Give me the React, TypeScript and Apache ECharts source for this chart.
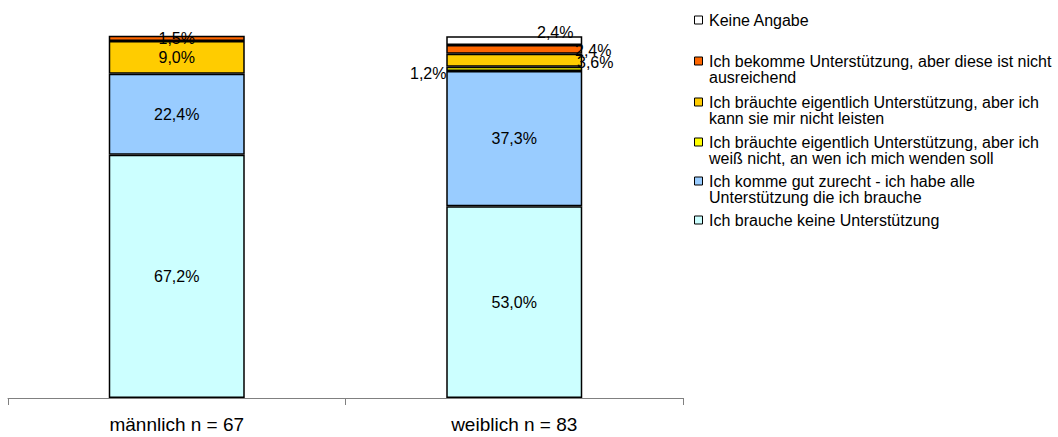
import React, { useEffect, useRef } from "react";
import * as echarts from "echarts";

const categories = ["männlich n = 67", "weiblich n = 83"];

const seriesNames = [
  "Ich brauche keine Unterstützung",
  "Ich komme gut zurecht - ich habe alle\nUnterstützung die ich brauche",
  "Ich bräuchte eigentlich Unterstützung, aber ich\nweiß nicht, an wen ich mich wenden soll",
  "Ich bräuchte eigentlich Unterstützung, aber ich\nkann sie mir nicht leisten",
  "Ich bekomme Unterstützung, aber diese ist nicht\nausreichend",
  "Keine Angabe",
];

const seriesColors = ["#CCFFFF", "#99CCFF", "#FFFF00", "#FFCC00", "#FF6600", "#FFFFFF"];

// values per series: [männlich, weiblich]
const keineUnterstuetzung = [67.2, 53.0];
const kommeGutZurecht = [22.4, 37.3];
const weissNichtWohin = [null, 1.2];
const kannNichtLeisten = [9.0, 3.6];
const nichtAusreichend = [1.5, 2.4];
const keineAngabe = [null, 2.4];

const seriesValues = [
  keineUnterstuetzung,
  kommeGutZurecht,
  weissNichtWohin,
  kannNichtLeisten,
  nichtAusreichend,
  keineAngabe,
];

// label offsets [seriesIndex][categoryIndex]
const labelOffsets: (number[] | null)[][] = [
  [null, null],
  [null, null],
  [null, [-86, 5]],
  [null, [81, 2]],
  [null, [79, 1]],
  [null, [41, -8]],
];

// legend first-line centre y positions (top to bottom: series 5 .. 0)
const legendY = [20, 61, 102, 142, 181, 220];

const FONT = "Arial, 'Liberation Sans', sans-serif";
const LABEL_FS = 16;
const AXIS_FS = 19;
const LEGEND_FS = 16;

export default function App() {
  const ref = useRef<HTMLDivElement>(null);
  useEffect(() => {
    if (!ref.current) return;
    const chart = echarts.init(ref.current, null, { renderer: "svg" });
    const fmt = (v: number) => v.toFixed(1).replace(".", ",") + "%";

    const series = seriesValues.map((vals, si) => ({
      name: seriesNames[si],
      type: "bar",
      stack: "total",
      barWidth: 136,
      clip: false,
      itemStyle: { color: seriesColors[si], borderColor: "#000", borderWidth: 1.5 },
      label: {
        show: true,
        position: "inside",
        color: "#000",
        fontFamily: FONT,
        fontSize: LABEL_FS,
        formatter: (p: any) => fmt(p.value),
      },
      data: vals.map((v, ci) => {
        if (v === null) return "-";
        const off = labelOffsets[si][ci];
        return off ? { value: v, label: { offset: off } } : { value: v };
      }),
    }));

    const legendOrder = [5, 4, 3, 2, 1, 0];
    const graphic: any[] = [];
    legendOrder.forEach((si, i) => {
      const cy = legendY[i];
      graphic.push({
        type: "rect",
        left: 694,
        top: cy - 4.5,
        shape: { width: 8, height: 8 },
        style: { fill: seriesColors[si], stroke: "#000", lineWidth: 1 },
      });
      graphic.push({
        type: "text",
        left: 709,
        top: cy - 8,
        style: {
          text: seriesNames[si],
          fill: "#000",
          font: `${LEGEND_FS}px ${FONT}`,
          lineHeight: 16,
        },
      });
    });

    chart.setOption({
      animation: false,
      backgroundColor: "#fff",
      grid: { left: 8, right: 375, top: 36, bottom: 39 },
      xAxis: {
        type: "category",
        data: categories,
        axisLine: { lineStyle: { color: "#808080", width: 1 } },
        axisTick: { show: true, length: 7, lineStyle: { color: "#808080" } },
        axisLabel: { color: "#000", fontFamily: FONT, fontSize: AXIS_FS, margin: 17 },
      },
      yAxis: { type: "value", min: 0, max: 100, show: false },
      series,
      graphic,
    });
    return () => chart.dispose();
  }, []);
  return (
    <div
      ref={ref}
      style={{ position: "fixed", left: 0, top: 0, width: 1058, height: 437, background: "#fff" }}
    />
  );
}
